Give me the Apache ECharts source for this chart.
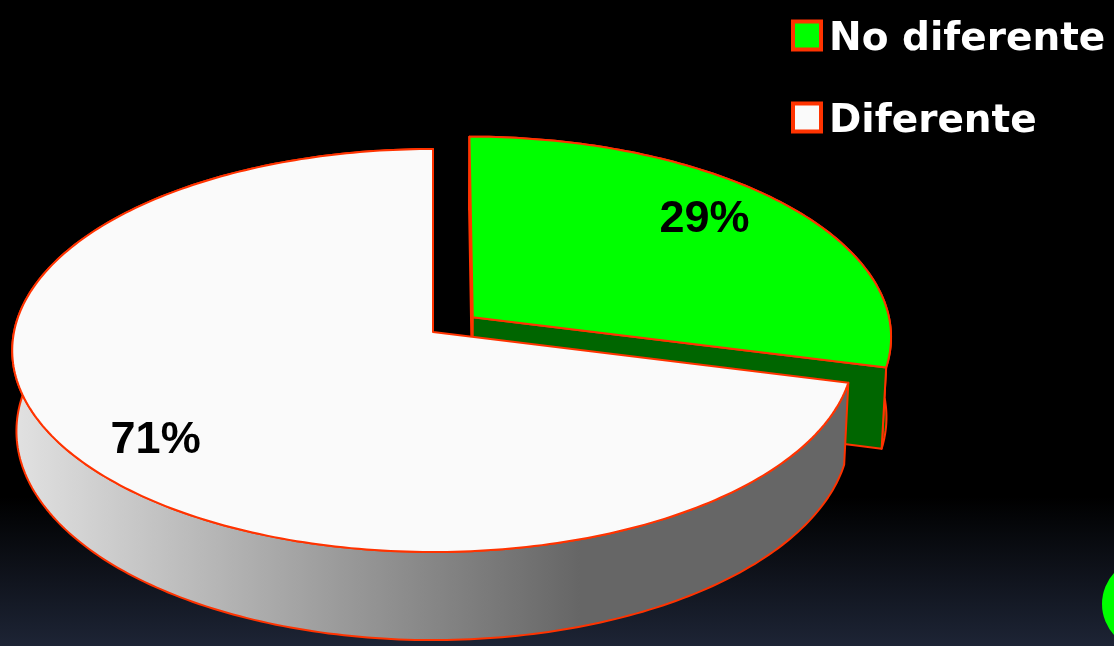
<!DOCTYPE html>
<html><head><meta charset="utf-8">
<script src="https://cdn.jsdelivr.net/npm/echarts@6/dist/echarts.min.js"></script>
<style>html,body{margin:0;padding:0;background:#000}#chart{width:1114px;height:646px}</style>
</head><body><div id="chart"></div>
<script>
// ---- data ----
const categories = ['No diferente', 'Diferente'];
const values = [29, 71];
const valueLabels = ['29%', '71%'];

// ---- styling / layout ----
const topColors = ['#00ff00', '#fafafa'];
const explode = [0.121, 0];
const EDGE = '#ff3300';
const G = {cx: 433, cy: 332, rx: 419, ry: 199.8, k: 0.0918, h: 80, bottomScale: 0.99};
const LABEL = {r: 0.8, angleShift: -2.5 * Math.PI / 180, dx: -9};

function proj(u, v, down) {
  const w = 1 + G.k * v;
  const sx = down ? G.bottomScale : 1;
  return [G.cx + G.rx * sx * u / w, G.cy + (-G.ry * v + (down ? G.h : 0)) / w];
}
function signedArea(pts) {
  let s = 0;
  for (let i = 0; i < pts.length; i++) {
    const a = pts[i], b = pts[(i + 1) % pts.length];
    s += a[0] * b[1] - b[0] * a[1];
  }
  return s;
}

const whiteWall = new echarts.graphic.LinearGradient(12, 0, 580, 0, [
  {offset: 0, color: '#e2e2e2'}, {offset: 1, color: '#666666'}
], true);
const wallFills = ['#006600', whiteWall];

function renderItem(params, api) {
  const s = params.seriesIndex;
  const total = values.reduce((a, b) => a + b, 0);
  let before = 0;
  for (let i = 0; i < s; i++) before += values[i];
  const val = api.value(0);
  const a0 = before / total * Math.PI * 2;
  const a1 = (before + val) / total * Math.PI * 2;
  const mid = (a0 + a1) / 2;
  const e = explode[s];
  const ou = e * Math.sin(mid), ov = e * Math.cos(mid);
  const P = (r, t, down) => proj(ou + r * Math.sin(t), ov + r * Math.cos(t), down);
  const n = Math.max(8, Math.ceil((a1 - a0) / (Math.PI * 2) * 360));
  const topArc = [], botArc = [];
  for (let i = 0; i <= n; i++) {
    const t = a0 + (a1 - a0) * i / n;
    topArc.push(P(1, t, false));
    botArc.push(P(1, t, true));
  }
  const children = [];
  // outer wall
  children.push({
    type: 'polygon',
    shape: {points: topArc.concat(botArc.slice().reverse())},
    style: {fill: wallFills[s], stroke: EDGE, lineWidth: 2, lineJoin: 'round'}
  });
  // radial faces (only those facing the viewer)
  [[a0, -1], [a1, 1]].forEach(([t, sign]) => {
    const q = [P(0, t, false), P(1, t, false), P(1, t, true), P(0, t, true)];
    if (signedArea(q) * sign > 0) {
      children.push({
        type: 'polygon', shape: {points: q},
        style: {fill: '#006600', stroke: EDGE, lineWidth: 2, lineJoin: 'round'}
      });
    }
  });
  // top face
  children.push({
    type: 'polygon',
    shape: {points: [P(0, 0, false)].concat(topArc)},
    style: {fill: topColors[s], stroke: EDGE, lineWidth: 2, lineJoin: 'round'}
  });
  // label
  const lp = P(LABEL.r, mid + LABEL.angleShift, false);
  children.push({
    type: 'text',
    style: {
      text: valueLabels[s], x: lp[0] + LABEL.dx, y: lp[1],
      align: 'center', verticalAlign: 'middle',
      fill: '#000', fontSize: 45, fontWeight: 'bold', fontFamily: 'Liberation Sans'
    }
  });
  return {type: 'group', children};
}

const chart = echarts.init(document.getElementById('chart'));
chart.setOption({
  animation: false,
  backgroundColor: new echarts.graphic.LinearGradient(0, 0, 0, 1, [
    {offset: 0, color: '#000000'}, {offset: 0.77, color: '#000000'}, {offset: 1, color: '#1d2435'}
  ]),
  legend: {
    orient: 'vertical', left: 791, top: 12, padding: 0,
    itemWidth: 28, itemHeight: 28, itemGap: 35, icon: 'rect',
    selectedMode: false,
    itemStyle: {borderColor: EDGE, borderWidth: 4},
    formatter: name => '{t|' + name + '}',
    textStyle: {
      color: '#fff', fontSize: 39, fontWeight: 'bold', fontFamily: 'DejaVu Sans',
      rich: {t: {color: '#fff', fontSize: 39, fontWeight: 'bold', fontFamily: 'DejaVu Sans',
        lineHeight: 40, padding: [8, 0, 0, 3]}}
    },
    data: categories
  },
  graphic: [{
    type: 'circle', shape: {cx: 1148, cy: 604, r: 46}, style: {fill: '#00ff00'}, silent: true
  }],
  series: categories.map((name, i) => ({
    type: 'custom', name, coordinateSystem: 'none', silent: true,
    itemStyle: {color: topColors[i]},
    data: [values[i]],
    renderItem
  }))
});
</script>
</body></html>
